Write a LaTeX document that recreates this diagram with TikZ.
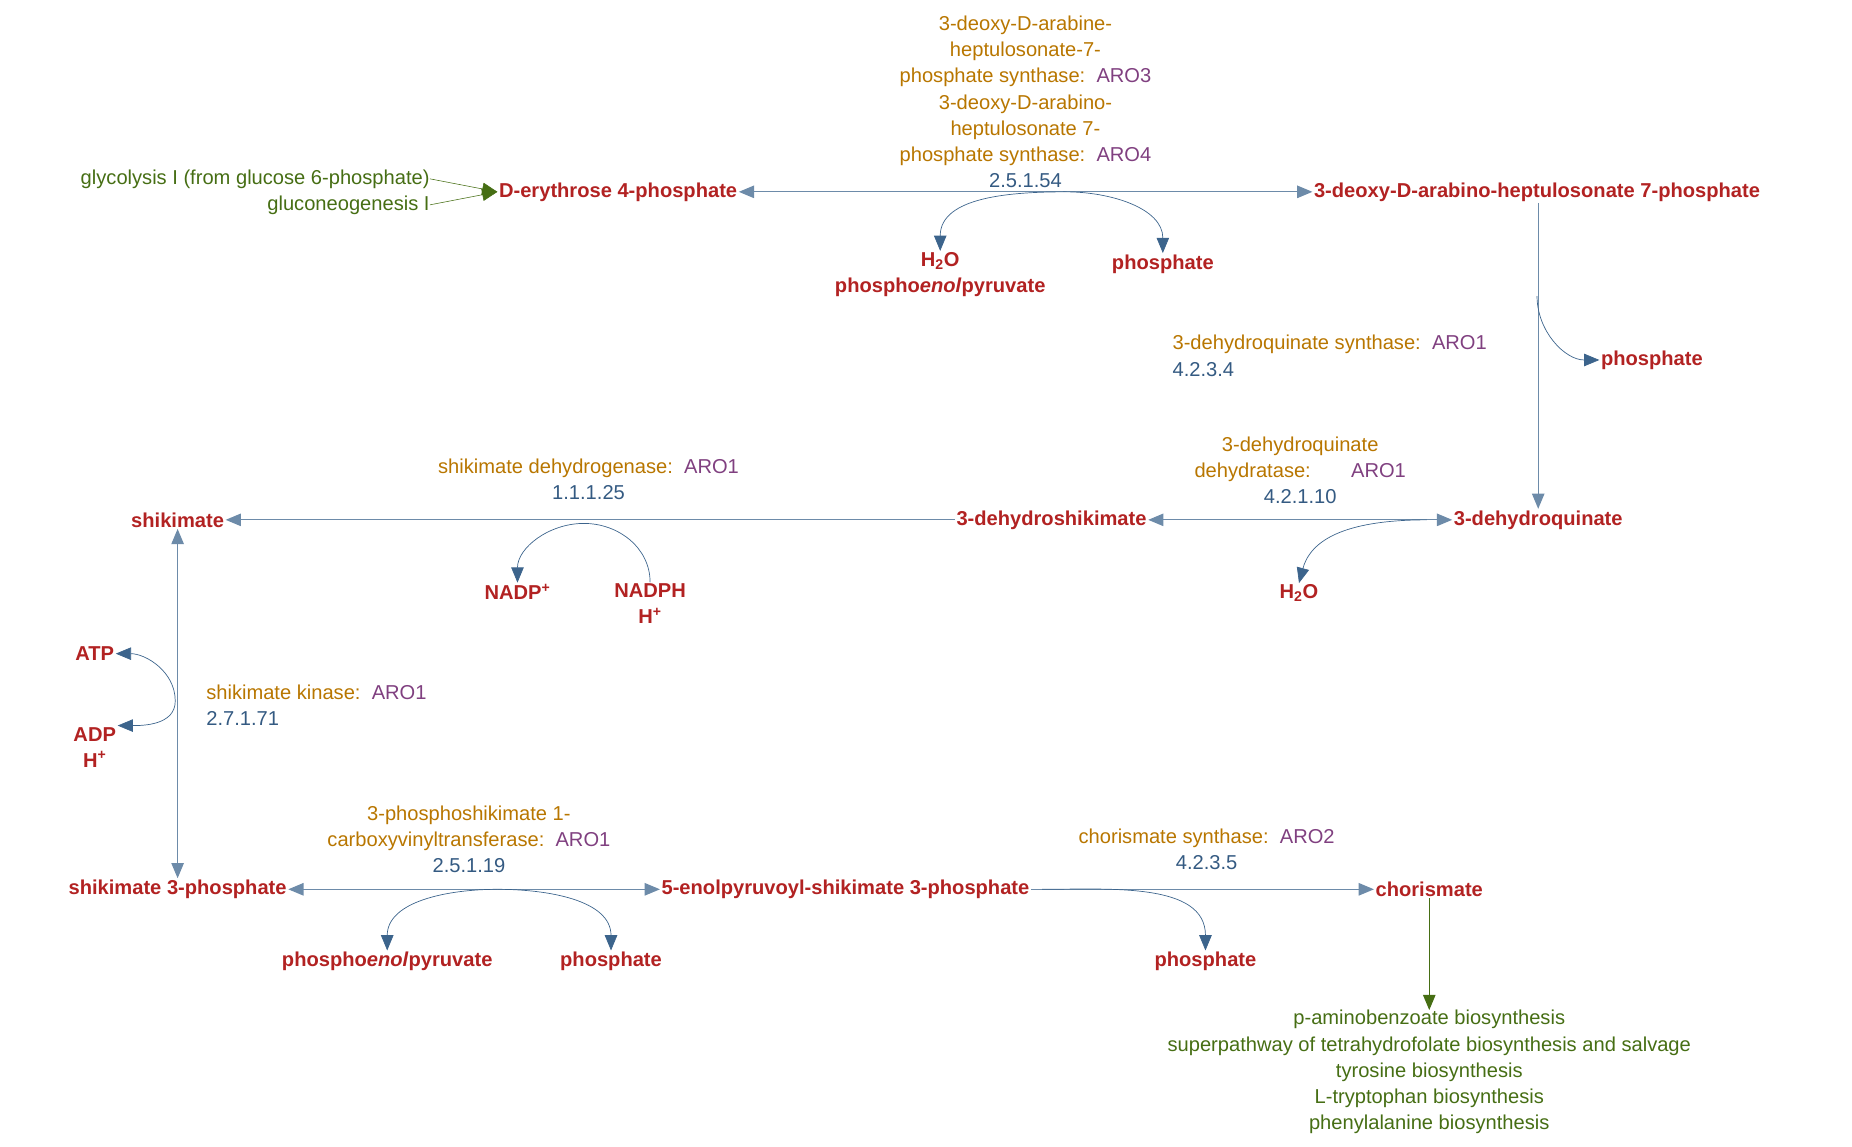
\documentclass[tikz,border=0pt]{standalone}
\usepackage{fontspec}
\setmainfont{Liberation Sans}
\usetikzlibrary{arrows.meta}
\definecolor{cpd}{RGB}{178,34,34}
\definecolor{enz}{RGB}{184,118,0}
\definecolor{gene}{RGB}{128,64,128}
\definecolor{ec}{RGB}{52,90,130}
\definecolor{arr}{RGB}{60,100,140}
\definecolor{pw}{RGB}{70,110,20}
\begin{document}
\begin{tikzpicture}[
		x=0.03cm, y=-0.03cm,
		font=\fontsize{14.5}{18.8}\selectfont,
		cpd/.style = {text=cpd, font=\fontsize{14.5}{18.8}\selectfont\bfseries, inner sep=1pt, align=center},
		lab/.style = {inner sep=0pt, align=center},
		pw/.style = {text=pw, inner sep=0pt, align=center},
		rx/.style = {draw=arr!75, line width=0.8pt},
		side/.style = {draw=arr, line width=0.5pt},
		tip/.style = {-{Triangle[length=11pt,width=9pt]}},
		tips/.style = {{Triangle[length=11pt,width=9pt]}-{Triangle[length=11pt,width=9pt]}}
	]
	\useasboundingbox (0,0) rectangle (1564,968);
	% compounds
	\node[cpd] (e4p) at (522,162) {D-erythrose 4-phosphate};
	\node[cpd] (dahp) at (1298,162) {3-deoxy-D-arabino-heptulosonate 7-phosphate};
	\node[cpd] (h2oa) at (794,232) {H\textsubscript{2}O\\phospho\textit{enol}pyruvate};
	\node[cpd] (pia) at (982,223) {phosphate};
	\node[cpd] (pib) at (1395,304) {phosphate};
	\node[cpd] (dhq) at (1299,439) {3-dehydroquinate};
	\node[cpd] (dhs) at (888,439) {3-dehydroshikimate};
	\node[cpd] (h2ob) at (1097,501) {H\textsubscript{2}O};
	\node[cpd] (shk) at (150,439) {shikimate};
	\node[cpd] (nadp) at (437,500) {NADP\textsuperscript{+}};
	\node[cpd] (nadph) at (549,510) {NADPH\\H\textsuperscript{+}};
	\node[cpd] (atp) at (80,552) {ATP};
	\node[cpd] (adp) at (80,631) {ADP\\H\textsuperscript{+}};
	\node[cpd] (s3p) at (150,751) {shikimate 3-phosphate};
	\node[cpd] (epsp) at (714,751) {5-enolpyruvoyl-shikimate 3-phosphate};
	\node[cpd] (pep) at (327,812) {phospho\textit{enol}pyruvate};
	\node[cpd] (pic) at (516,812) {phosphate};
	\node[cpd] (chor) at (1207,751) {chorismate};
	\node[cpd] (pid) at (1018,812) {phosphate};
	% pathways
	\node[pw, anchor=east] (glyc) at (363,151) {glycolysis I (from glucose 6-phosphate)};
	\node[pw, anchor=east] (glng) at (363,173) {gluconeogenesis I};
	\node[pw, anchor=north] (out) at (1207,853) {p-aminobenzoate biosynthesis\\superpathway of tetrahydrofolate biosynthesis and salvage\\tyrosine biosynthesis\\L-tryptophan biosynthesis\\phenylalanine biosynthesis};
	% enzymes
	\node[lab] (e1) at (866,86) {\textcolor{enz}{3-deoxy-D-arabine-}\\\textcolor{enz}{heptulosonate-7-}\\\textcolor{enz}{phosphate synthase:}\ \ \textcolor{gene}{ARO3}\\\textcolor{enz}{3-deoxy-D-arabino-}\\\textcolor{enz}{heptulosonate 7-}\\\textcolor{enz}{phosphate synthase:}\ \ \textcolor{gene}{ARO4}\\\textcolor{ec}{2.5.1.54}};
	\node[lab, anchor=north west, align=left] (e2) at (990,283) {\textcolor{enz}{3-dehydroquinate synthase:}\ \ \textcolor{gene}{ARO1}\\\textcolor{ec}{4.2.3.4}};
	\node[lab] (e3) at (1098,397) {\textcolor{enz}{3-dehydroquinate}\\\textcolor{enz}{dehydratase:}\qquad\textcolor{gene}{ARO1}\\\textcolor{ec}{4.2.1.10}};
	\node[lab] (e4) at (497,405) {\textcolor{enz}{shikimate dehydrogenase:}\ \ \textcolor{gene}{ARO1}\\\textcolor{ec}{1.1.1.25}};
	\node[lab, anchor=north west, align=left] (e5) at (174,578) {\textcolor{enz}{shikimate kinase:}\ \ \textcolor{gene}{ARO1}\\\textcolor{ec}{2.7.1.71}};
	\node[lab] (e6) at (396,709) {\textcolor{enz}{3-phosphoshikimate 1-}\\\textcolor{enz}{carboxyvinyltransferase:}\ \ \textcolor{gene}{ARO1}\\\textcolor{ec}{2.5.1.19}};
	\node[lab] (e7) at (1019,717) {\textcolor{enz}{chorismate synthase:}\ \ \textcolor{gene}{ARO2}\\\textcolor{ec}{4.2.3.5}};
	% main reactions
	\draw[rx, tips] (e4p) -- (dahp);
	\draw[rx, tip] (dahp.south -| dhq) -- (dhq);
	\draw[rx, tips] (dhs) -- (dhq);
	\draw[rx, tip] (dhs) -- (shk);
	\draw[rx, tips] (shk) -- (s3p);
	\draw[rx, tips] (s3p) -- (epsp);
	\draw[rx, tip] (epsp) -- (chor);
	\draw[draw=pw, line width=0.8pt, -{Triangle[length=11pt,width=9pt]}, pw] (chor) -- (out);
	\draw[draw=pw, -{Triangle[length=11pt,width=9pt]}] (glyc.east) -- (e4p.west);
	\draw[draw=pw, -{Triangle[length=11pt,width=9pt]}] (glng.east) -- (e4p.west);
	% side reactions
	\coordinate (c1) at (900,162);
	\draw[side, tip] (c1) to[out=180, in=90] (h2oa.north);
	\draw[side, tip] (c1) to[out=0, in=90] (pia.north);
	\coordinate (c2) at (1298,250);
	\draw[side, tip] (c2) to[out=270, in=180] (pib.west);
	\coordinate (c3) at (1205,439);
	\draw[side, tip] (c3) to[out=180, in=75] (h2ob.north);
	\draw[side, tip] (nadph.north) to[out=90, in=0] (493,442) to[out=180, in=90] (nadp.north);
	\draw[side, tips] (atp.east) to[out=0, in=90] (148,592) to[out=270, in=0] (adp.north east);
	\coordinate (c4) at (420,751);
	\draw[side, tip] (c4) to[out=180, in=90] (pep.north);
	\draw[side, tip] (c4) to[out=0, in=90] (pic.north);
	\coordinate (c5) at (880,751);
	\draw[side, tip] (c5) to[out=0, in=90] (pid.north);
\end{tikzpicture}
\end{document}
